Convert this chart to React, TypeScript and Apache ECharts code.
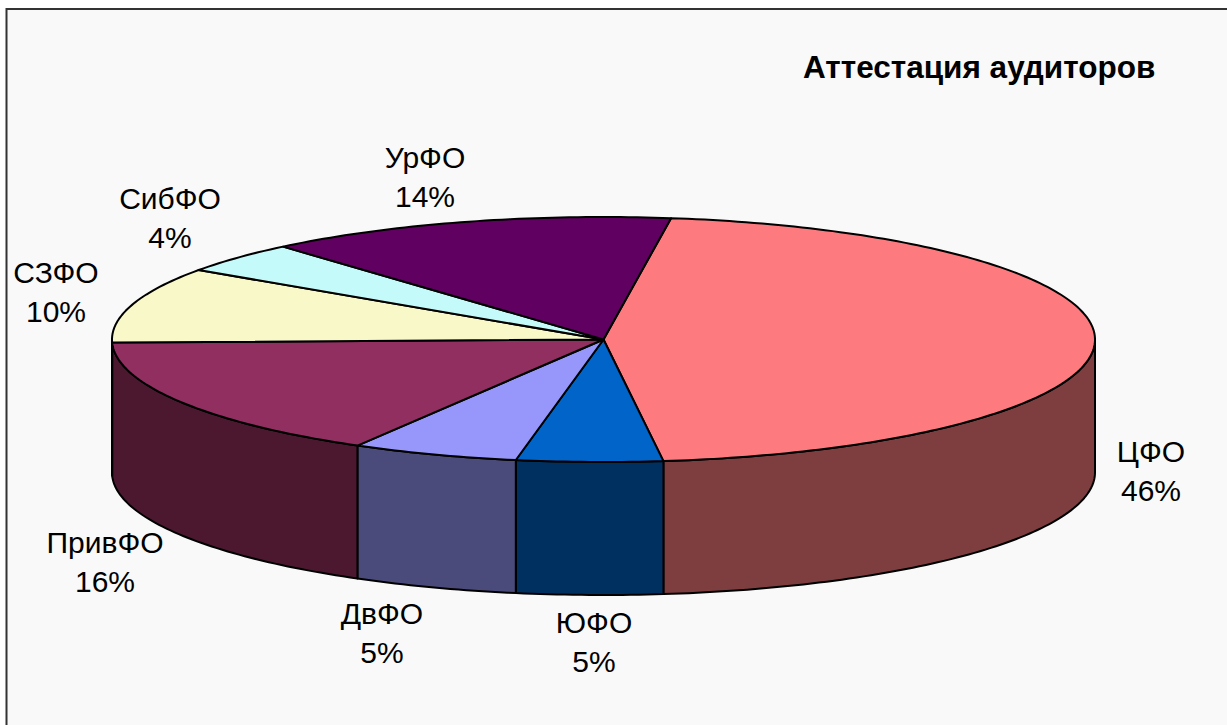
import React, { useEffect, useRef } from "react";
import * as echarts from "echarts";

const categories = ["ЦФО", "ЮФО", "ДвФО", "ПривФО", "СЗФО", "СибФО", "УрФО"];
const shares = [45.86, 4.8, 5.49, 16.25, 10.0, 4.1, 13.5];
const topColors = ["#fd7b7f", "#0064c8", "#9797fb", "#902f60", "#f8f8c8", "#c5fafa", "#600060"];
const wallColors = ["#7e3d3f", "#003060", "#4b4b7b", "#4b1830", "#7c7c64", "#627d7d", "#300030"];
const labelCenters = [
  [1151, 471],
  [594, 642],
  [382, 633],
  [105, 562],
  [56, 292],
  [170, 218],
  [425, 177],
];

const WIDTH = 1227;
const HEIGHT = 725;
const CX = 603.5;
const CY = 339.5;
const RX = 491.5;
const RY = 122.5;
const DEPTH = 133;
const START_DEG = 7.9;
const FONT = "'Liberation Sans', Arial, sans-serif";

const pointAt = (deg: number, drop = 0) => {
  const t = (deg * Math.PI) / 180;
  return [CX + RX * Math.sin(t), CY - RY * Math.cos(t) + drop];
};

const arcPoints = (from: number, to: number, drop = 0) => {
  const out: number[][] = [];
  const steps = Math.max(2, Math.ceil(Math.abs(to - from) / 1));
  for (let i = 0; i <= steps; i++) out.push(pointAt(from + ((to - from) * i) / steps, drop));
  return out;
};

const total = shares.reduce((a, b) => a + b, 0);

const renderSlice = (params: any) => {
  const i = params.dataIndex;
  const before = shares.slice(0, i).reduce((a, b) => a + b, 0);
  const a0 = START_DEG + (before / total) * 360;
  const a1 = a0 + (shares[i] / total) * 360;
  const children: any[] = [];
  const w0 = Math.max(a0, 90);
  const w1 = Math.min(a1, 270);
  const edge = { stroke: "#000", lineWidth: 2, lineJoin: "round" };
  if (w1 > w0) {
    children.push({
      type: "polygon",
      z2: 1,
      shape: { points: [...arcPoints(w0, w1), ...arcPoints(w1, w0, DEPTH)] },
      style: { fill: wallColors[i], ...edge },
    });
  }
  children.push({
    type: "polygon",
    z2: 2,
    shape: { points: [[CX, CY], ...arcPoints(a0, a1)] },
    style: { fill: topColors[i], ...edge },
  });
  children.push({
    type: "text",
    z2: 3,
    style: {
      text: `${categories[i]}\n${Math.round((shares[i] / total) * 100)}%`,
      x: labelCenters[i][0],
      y: labelCenters[i][1],
      align: "center",
      verticalAlign: "middle",
      fontFamily: FONT,
      fontSize: 30,
      lineHeight: 38.5,
      fill: "#000",
    },
  });
  return { type: "group", children };
};

export default function App() {
  const ref = useRef<HTMLDivElement>(null);
  useEffect(() => {
    const chart = echarts.init(ref.current!, undefined, { renderer: "svg" });
    chart.setOption({
      animation: false,
      backgroundColor: "#ffffff",
      title: {
        text: "Аттестация аудиторов",
        left: 798,
        top: 46,
        textStyle: { fontFamily: FONT, fontSize: 31.5, fontWeight: "bold", color: "#000" },
      },
      graphic: [
        {
          type: "rect",
          z: -2,
          shape: { x: 7, y: 9, width: WIDTH - 7, height: HEIGHT - 9 },
          style: { fill: "#f9f9f9" },
        },
        {
          type: "polyline",
          z: -1,
          shape: { points: [[6.5, HEIGHT], [6.5, 9], [WIDTH, 9]] },
          style: { stroke: "#333", lineWidth: 2, fill: "none" },
        },
      ],
      series: [
        {
          type: "custom",
          coordinateSystem: "none",
          silent: true,
          renderItem: renderSlice,
          data: categories.map((name, i) => ({ name, value: shares[i] })),
        },
      ],
    });
    return () => chart.dispose();
  }, []);
  return <div ref={ref} style={{ position: "fixed", left: 0, top: 0, width: WIDTH, height: HEIGHT }} />;
}
